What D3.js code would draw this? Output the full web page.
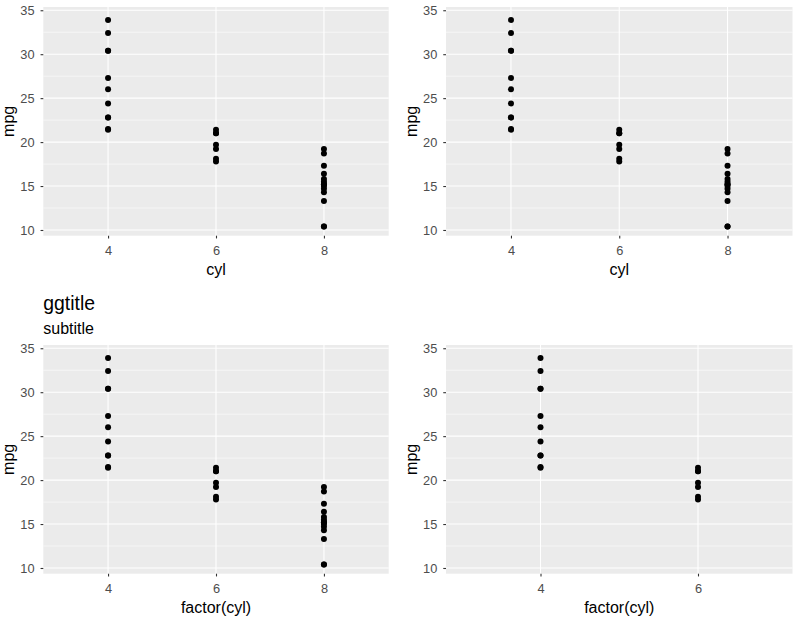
<!DOCTYPE html>
<html><head><meta charset="utf-8">
<script src="https://cdn.jsdelivr.net/npm/d3@7"></script>
<style>body{margin:0;background:#fff}svg{display:block}text{font-family:"Liberation Sans",Arial,sans-serif}</style>
</head><body>
<script>
// mtcars mpg by cylinder count
const cyl4 = [22.8, 24.4, 22.8, 32.4, 30.4, 33.9, 21.5, 27.3, 26.0, 30.4, 21.4];
const cyl6 = [21.0, 21.0, 21.4, 18.1, 19.2, 17.8, 19.7];
const cyl8 = [18.7, 14.3, 16.4, 17.3, 15.2, 10.4, 10.4, 14.7, 15.5, 15.2, 13.3, 19.2, 15.8, 15.0];
const yTicks = [10, 15, 20, 25, 30, 35];
const yMinor = [12.5, 17.5, 22.5, 27.5, 32.5];

const W = 799, H = 621;
const FONT = '"Liberation Sans",Arial,sans-serif';
const svg = d3.select("body").append("svg").attr("width", W).attr("height", H);

function panel(opt) {
  const g = svg.append("g");
  const x = d3.scaleLinear().domain(opt.xDomain).range([opt.left, opt.right]);
  const y = d3.scaleLinear().domain([9.35, 35.37]).range([opt.bottom, opt.top]);
  g.append("rect").attr("x", opt.left).attr("y", opt.top)
    .attr("width", opt.right - opt.left).attr("height", opt.bottom - opt.top).attr("fill", "#EBEBEB");
  g.selectAll(".ymin").data(yMinor).join("line")
    .attr("x1", opt.left).attr("x2", opt.right).attr("y1", d => y(d)).attr("y2", d => y(d))
    .attr("stroke", "#fff").attr("stroke-width", 0.55);
  g.selectAll(".ymaj").data(yTicks).join("line")
    .attr("x1", opt.left).attr("x2", opt.right).attr("y1", d => y(d)).attr("y2", d => y(d))
    .attr("stroke", "#fff").attr("stroke-width", 1.1);
  g.selectAll(".xmaj").data(opt.cats).join("line")
    .attr("y1", opt.top).attr("y2", opt.bottom).attr("x1", d => x(d)).attr("x2", d => x(d))
    .attr("stroke", "#fff").attr("stroke-width", 1.1);
  // y axis
  const ya = d3.axisLeft(y).tickValues(yTicks).tickSize(2.75).tickPadding(6);
  const yg = g.append("g").attr("transform", `translate(${opt.left},0)`).call(ya);
  yg.select(".domain").remove();
  yg.selectAll("line").attr("stroke", "#333").attr("stroke-width", 1.1);
  yg.selectAll("text").attr("fill", "#4D4D4D").attr("font-size", 12.8).style("font-family", FONT);
  // x axis
  const xa = d3.axisBottom(x).tickValues(opt.cats).tickFormat(d3.format("d")).tickSize(2.75).tickPadding(7.4);
  const xg = g.append("g").attr("transform", `translate(0,${opt.bottom})`).call(xa);
  xg.select(".domain").remove();
  xg.selectAll("line").attr("stroke", "#333").attr("stroke-width", 1.1);
  xg.selectAll("text").attr("fill", "#4D4D4D").attr("font-size", 12.8).style("font-family", FONT);
  // points
  const pts = [];
  opt.cats.forEach((c, i) => opt.series[i].forEach(v => pts.push({c, v})));
  g.selectAll(".pt").data(pts).join("circle")
    .attr("cx", d => x(d.c)).attr("cy", d => y(d.v)).attr("r", 3).attr("fill", "#000");
  // titles
  g.append("text").attr("x", (opt.left + opt.right) / 2).attr("y", opt.bottom + 39.6)
    .attr("text-anchor", "middle").attr("font-size", 16).attr("fill", "#000").text(opt.xTitle);
  g.append("text").attr("transform", `translate(${opt.left - 29},${(opt.top + opt.bottom) / 2}) rotate(-90)`)
    .attr("text-anchor", "middle").attr("font-size", 16).attr("fill", "#000").text("mpg");
  if (opt.title) {
    g.append("text").attr("x", opt.left).attr("y", opt.top - 35).attr("font-size", 19.4).attr("fill", "#000").text(opt.title);
    g.append("text").attr("x", opt.left).attr("y", opt.top - 10.7).attr("font-size", 16).attr("fill", "#000").text(opt.subtitle);
  }
}

panel({left: 43.3, right: 388.7, top: 7, bottom: 235.7, xDomain: [2.8, 9.2], cats: [4, 6, 8], series: [cyl4, cyl6, cyl8], xTitle: "cyl"});
panel({left: 446, right: 792.5, top: 7, bottom: 235.7, xDomain: [2.8, 9.2], cats: [4, 6, 8], series: [cyl4, cyl6, cyl8], xTitle: "cyl"});
panel({left: 43.3, right: 388.7, top: 345, bottom: 573.7, xDomain: [2.8, 9.2], cats: [4, 6, 8], series: [cyl4, cyl6, cyl8], xTitle: "factor(cyl)", title: "ggtitle", subtitle: "subtitle"});
panel({left: 446, right: 792.5, top: 345, bottom: 573.7, xDomain: [2.8, 7.2], cats: [4, 6], series: [cyl4, cyl6], xTitle: "factor(cyl)"});
</script>
</body></html>
